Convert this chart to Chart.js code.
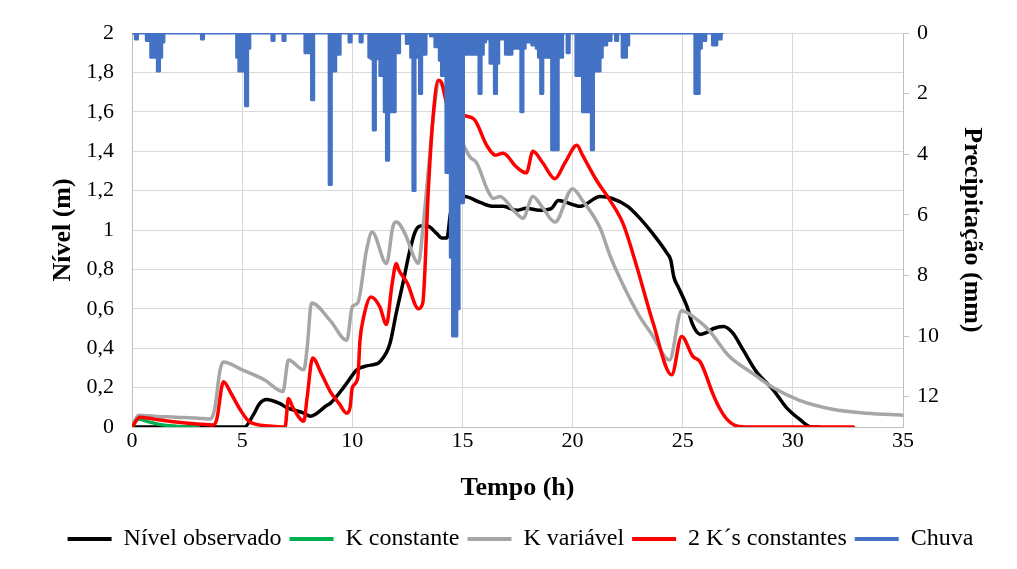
<!DOCTYPE html>
<html>
<head>
<meta charset="utf-8">
<script src="https://cdn.jsdelivr.net/npm/chart.js@4"></script>
<style>
  html, body { margin: 0; padding: 0; background: #fff; }
  #wrap { width: 1017px; height: 569px; position: relative; }
</style>
</head>
<body>
<div id="wrap"><canvas id="chart" width="1017" height="569"></canvas></div>
<script>
// Nível observado (m)
const obsTime = [0, 1, 2, 3, 4, 5.1, 5.5, 5.8, 6.1, 6.7, 7.0, 7.8, 8.1, 8.85, 9.0, 9.6, 10.05, 10.2, 10.65, 11.1, 11.25, 11.7, 12.0, 12.3, 12.6, 12.85, 13.1, 13.4, 13.85, 14.05, 14.3, 14.45, 14.6, 15.1, 15.8, 16.4, 16.85, 17.45, 17.9, 18.5, 19.05, 19.35, 20.35, 21.25, 21.8, 22.5, 23.05, 23.65, 24.3, 24.45, 24.6, 24.8, 25.2, 25.45, 25.8, 26.1, 26.4, 26.85, 27.25, 27.75, 28.35, 29.1, 29.7, 30.3, 30.85, 31.2];
const obsLevel = [0, 0, 0, 0, 0, 0, 0.06, 0.12, 0.14, 0.12, 0.10, 0.07, 0.055, 0.11, 0.12, 0.2, 0.27, 0.29, 0.31, 0.32, 0.33, 0.42, 0.58, 0.73, 0.89, 0.99, 1.02, 1.02, 0.98, 0.96, 0.96, 1.08, 1.15, 1.17, 1.14, 1.12, 1.12, 1.10, 1.11, 1.10, 1.11, 1.15, 1.12, 1.17, 1.16, 1.12, 1.06, 0.98, 0.88, 0.85, 0.76, 0.71, 0.61, 0.52, 0.47, 0.48, 0.50, 0.51, 0.48, 0.39, 0.28, 0.19, 0.10, 0.04, 0.0, 0];

// K constante
const kConstTime = [0, 0.3, 0.8, 1.3, 2.0, 2.6, 3.0];
const kConstLevel = [0, 0.04, 0.025, 0.012, 0.004, 0, 0];

// K variável
const kVarTime = [0, 0.3, 1, 2, 3, 3.55, 3.75, 4.0, 4.15, 5, 6, 6.85, 7.1, 7.8, 7.95, 8.15, 9, 9.75, 10.0, 10.25, 10.65, 10.9, 11.55, 11.85, 12.0, 12.4, 12.85, 13.0, 13.2, 13.45, 13.7, 13.95, 14.05, 14.4, 14.75, 15.1, 15.35, 15.65, 16.15, 16.4, 16.7, 17.4, 17.75, 18.2, 18.6, 19.2, 20.0, 20.45, 21.25, 21.7, 22.3, 23.05, 23.6, 24.4, 24.95, 25.65, 26.2, 27.1, 28.2, 29.1, 30.3, 31.8, 33.35, 35];
const kVarLevel = [0, 0.06, 0.055, 0.05, 0.045, 0.04, 0.09, 0.29, 0.33, 0.29, 0.24, 0.18, 0.34, 0.29, 0.4, 0.63, 0.54, 0.44, 0.61, 0.63, 0.9, 0.99, 0.83, 1.02, 1.04, 0.98, 0.85, 0.83, 1.0, 1.3, 1.6, 1.75, 1.74, 1.6, 1.5, 1.42, 1.37, 1.34, 1.2, 1.16, 1.17, 1.09, 1.06, 1.17, 1.12, 1.04, 1.21, 1.15, 1.01, 0.87, 0.72, 0.56, 0.47, 0.34, 0.59, 0.545, 0.49, 0.36, 0.27, 0.2, 0.135, 0.09, 0.07, 0.06];

// 2 K´s constantes
const twoKTime = [0, 0.35, 1, 2, 3, 3.7, 3.85, 4.15, 4.5, 4.9, 5.35, 6.25, 6.95, 7.1, 7.3, 7.8, 7.95, 8.2, 8.6, 9.0, 9.4, 9.75, 9.9, 10.0, 10.25, 10.35, 10.5, 10.85, 11.25, 11.55, 11.8, 12.0, 12.1, 12.5, 13.0, 13.2, 13.45, 13.65, 13.9, 14.05, 14.35, 14.75, 15.1, 15.55, 16.1, 16.5, 16.85, 17.45, 17.9, 18.2, 18.65, 19.2, 19.65, 20.2, 20.45, 21.1, 21.7, 22.3, 22.9, 23.65, 24.5, 24.95, 25.45, 25.8, 26.4, 26.7, 27.0, 27.45, 28, 30, 32.75];
const twoKLevel = [0, 0.05, 0.04, 0.025, 0.015, 0.01, 0.04, 0.23, 0.17, 0.09, 0.025, 0.005, 0, 0.145, 0.1, 0.03, 0.15, 0.35, 0.27, 0.18, 0.12, 0.07, 0.1, 0.2, 0.25, 0.44, 0.55, 0.66, 0.61, 0.52, 0.72, 0.83, 0.8, 0.73, 0.6, 0.63, 1.2, 1.55, 1.76, 1.75, 1.62, 1.6, 1.58, 1.56, 1.43, 1.38, 1.39, 1.32, 1.29, 1.40, 1.34, 1.26, 1.34, 1.43, 1.38, 1.25, 1.15, 1.03, 0.82, 0.53, 0.265, 0.46, 0.36, 0.33, 0.16, 0.09, 0.04, 0.005, 0, 0, 0];

// Chuva (mm) - only the intervals with rain, every 0.1 h
const rainTime = [0.2, 0.7, 0.9, 1.0, 1.1, 1.2, 1.3, 1.4, 3.2, 4.8, 4.9, 5.0, 5.1, 5.2, 5.3, 6.4, 6.9, 7.9, 8.0, 8.2, 9.0, 9.1, 9.2, 9.4, 9.9, 10.4, 10.8, 10.9, 11.0, 11.1, 11.2, 11.3, 11.5, 11.6, 11.7, 11.8, 11.9, 12.0, 12.1, 12.5, 12.7, 12.8, 12.9, 13.1, 13.3, 13.6, 13.8, 13.9, 14.0, 14.1, 14.2, 14.3, 14.4, 14.5, 14.6, 14.7, 14.8, 14.9, 15.0, 15.1, 15.2, 15.3, 15.4, 15.5, 15.6, 15.7, 15.8, 15.9, 16.0, 16.1, 16.3, 16.4, 16.5, 16.6, 16.8, 17.0, 17.1, 17.2, 17.4, 17.5, 17.6, 17.7, 17.8, 18.0, 18.2, 18.4, 18.5, 18.6, 18.7, 18.8, 18.9, 19.0, 19.1, 19.2, 19.3, 19.4, 19.5, 19.8, 20.2, 20.3, 20.4, 20.5, 20.6, 20.7, 20.8, 20.9, 21.0, 21.1, 21.2, 21.3, 21.5, 21.7, 22.0, 22.3, 22.4, 22.5, 25.6, 25.7, 25.8, 26.0, 26.4, 26.5, 26.7];
const rainMm = [0.2, 0.25, 0.8, 0.8, 0.8, 1.25, 0.8, 0.3, 0.2, 0.8, 1.25, 1.25, 0.8, 2.4, 0.5, 0.25, 0.25, 0.65, 0.65, 2.2, 5.0, 1.25, 1.25, 0.7, 0.3, 0.3, 0.8, 0.85, 3.2, 0.85, 0.85, 1.4, 2.6, 4.2, 2.6, 2.6, 2.6, 0.65, 0.65, 0.35, 0.8, 5.2, 0.8, 2.0, 0.7, 0.1, 0.45, 0.45, 0.9, 1.4, 1.4, 4.6, 4.6, 7.4, 10.0, 10.0, 9.1, 5.6, 5.6, 0.7, 0.7, 0.7, 0.3, 0.7, 0.7, 0.7, 2.0, 0.7, 0.3, 0.2, 1.0, 1.0, 2.0, 1.0, 0.2, 0.7, 0.7, 0.7, 0.5, 0.5, 0.5, 2.6, 0.5, 0.3, 0.4, 0.5, 0.8, 2.0, 0.8, 0.8, 0.8, 0.8, 3.85, 3.85, 3.85, 0.8, 0.8, 0.65, 1.4, 1.4, 1.4, 2.6, 2.6, 2.6, 1.25, 3.85, 1.25, 1.25, 1.25, 0.8, 0.4, 0.25, 0.25, 0.8, 0.8, 0.4, 2.0, 2.0, 0.5, 0.25, 0.4, 0.4, 0.2];
const rainEnd = 26.8;

// axis ticks
const levelTicks = [0, 0.2, 0.4, 0.6, 0.8, 1, 1.2, 1.4, 1.6, 1.8, 2];
const rainTicks = [0, 2, 4, 6, 8, 10, 12];
const timeTicks = [0, 5, 10, 15, 20, 25, 30, 35];

const toPoints = (xs, ys) => xs.map((x, i) => ({ x: x, y: ys[i] }));

// rain series on a 0.1 h grid, zero where nothing fell
const rainPoints = [];
for (let i = 0; i <= Math.round(rainEnd * 10); i++) {
    const t = i / 10;
    const k = rainTime.findIndex(r => Math.abs(r - t) < 0.001);
    rainPoints.push({ x: t, y: k >= 0 ? rainMm[k] : 0 });
}

const serif = "'Liberation Serif', 'Times New Roman', serif";
const gridColor = '#d9d9d9';
const axisColor = '#bfbfbf';

const lineStyle = {
    pointRadius: 0,
    borderWidth: 3.5,
    fill: false,
    cubicInterpolationMode: 'monotone',
    borderJoinStyle: 'round',
    borderCapStyle: 'round'
};

const data = {
    datasets: [
        { label: 'Nível observado', data: toPoints(obsTime, obsLevel), borderColor: '#000000', backgroundColor: '#000000', yAxisID: 'y', order: 5, ...lineStyle },
        { label: 'K constante', data: toPoints(kConstTime, kConstLevel), borderColor: '#00b050', backgroundColor: '#00b050', yAxisID: 'y', order: 4, ...lineStyle },
        { label: 'K variável', data: toPoints(kVarTime, kVarLevel), borderColor: '#a6a6a6', backgroundColor: '#a6a6a6', yAxisID: 'y', order: 3, ...lineStyle },
        { label: '2 K´s constantes', data: toPoints(twoKTime, twoKLevel), borderColor: '#ff0000', backgroundColor: '#ff0000', yAxisID: 'y', order: 2, ...lineStyle },
        { label: 'Chuva', data: rainPoints, borderColor: '#4472c4', backgroundColor: '#4472c4', yAxisID: 'y2', order: 1,
          pointRadius: 0, borderWidth: 3, fill: 'origin', stepped: 'middle', borderJoinStyle: 'round', borderCapStyle: 'round' }
    ]
};

const fmtComma = v => String(Math.round(v * 10) / 10).replace('.', ',');

const config = {
    type: 'line',
    data: data,
    options: {
        responsive: false,
        animation: false,
        layout: { padding: { top: 33, left: 24, right: 0, bottom: 8 } },
        plugins: {
            tooltip: { enabled: false },
            legend: {
                position: 'bottom',
                labels: {
                    font: { family: serif, size: 24 },
                    color: '#000',
                    boxWidth: 44,
                    boxHeight: 4,
                    padding: 8,
                    generateLabels: (chart) => chart.data.datasets.map((ds, i) => ({
                        text: ds.label,
                        fillStyle: ds.borderColor,
                        strokeStyle: ds.borderColor,
                        lineWidth: 0,
                        hidden: false,
                        datasetIndex: i,
                        fontColor: '#000'
                    }))
                }
            }
        },
        scales: {
            x: {
                type: 'linear',
                min: 0,
                max: 35,
                afterFit: (scale) => { scale.height = 92; },
                afterBuildTicks: (scale) => { scale.ticks = timeTicks.map(v => ({ value: v })); },
                ticks: { font: { family: serif, size: 22 }, color: '#000', padding: 1, maxRotation: 0 },
                grid: { color: gridColor, drawTicks: false },
                border: { color: axisColor },
                title: { display: true, text: 'Tempo (h)', font: { family: serif, size: 26, weight: 'bold' }, color: '#000', padding: { top: 0, bottom: 15 } }
            },
            y: {
                position: 'left',
                min: 0,
                max: 2,
                afterFit: (scale) => { scale.width = 108; },
                afterBuildTicks: (scale) => { scale.ticks = levelTicks.map(v => ({ value: v })); },
                ticks: { font: { family: serif, size: 22 }, color: '#000', padding: 18, callback: fmtComma },
                grid: { color: gridColor, drawTicks: false },
                border: { color: axisColor },
                title: { display: true, text: 'Nível (m)', font: { family: serif, size: 26, weight: 'bold' }, color: '#000', padding: { top: 24, bottom: 0 } }
            },
            y2: {
                position: 'right',
                reverse: true,
                min: 0,
                max: 13,
                afterFit: (scale) => { scale.width = 114; },
                afterBuildTicks: (scale) => { scale.ticks = rainTicks.map(v => ({ value: v })); },
                ticks: { font: { family: serif, size: 22 }, color: '#000', padding: 8 },
                grid: { drawOnChartArea: false, color: axisColor, tickLength: 6 },
                border: { color: axisColor },
                title: { display: true, text: 'Precipitação (mm)', font: { family: serif, size: 26, weight: 'bold' }, color: '#000', padding: { top: 30, bottom: 0 } }
            }
        }
    }
};

new Chart(document.getElementById('chart'), config);
</script>
</body>
</html>
